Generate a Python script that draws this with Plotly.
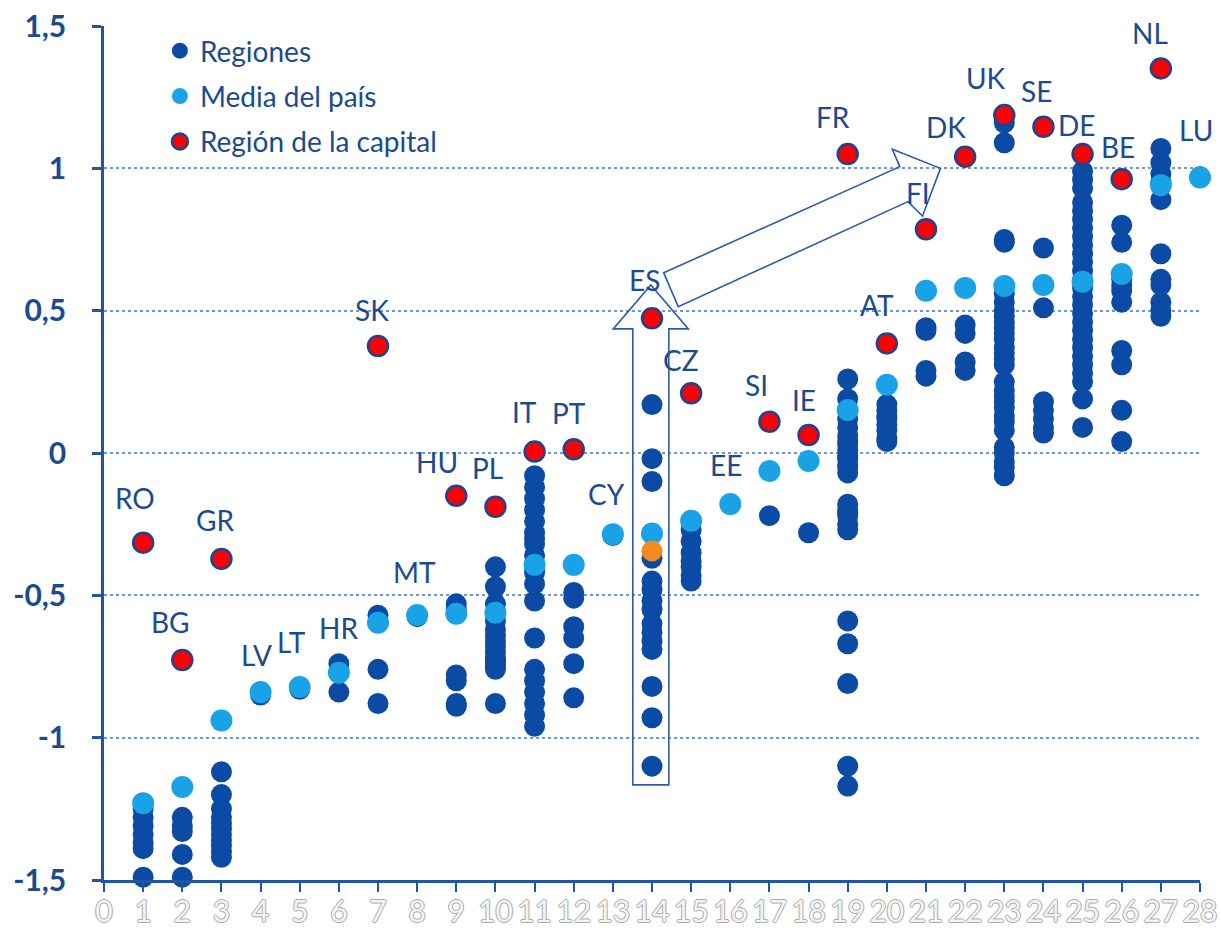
import plotly.graph_objects as go

# ---------------- data ----------------
countries = ["RO", "BG", "GR", "LV", "LT", "HR", "SK", "MT", "HU", "PL", "IT", "PT", "CY", "ES",
             "CZ", "EE", "SI", "IE", "FR", "AT", "FI", "DK", "UK", "SE", "DE", "BE", "NL", "LU"]
positions = list(range(1, 29))

capital_values = [-0.315, -0.727, -0.372, None, None, None, 0.376, None, -0.150, -0.189, 0.005, 0.013,
                  None, 0.473, 0.21, None, 0.11, 0.063, 1.05, 0.385, 0.786, 1.041, 1.187, 1.146,
                  1.05, 0.962, 1.351, None]

country_means = [-1.23, -1.173, -0.94, -0.84, -0.822, -0.772, -0.596, -0.569, -0.565, -0.561, -0.393,
                 -0.393, -0.285, -0.283, -0.238, -0.179, -0.063, -0.028, 0.151, 0.24, 0.570, 0.58,
                 0.587, 0.59, 0.602, 0.629, 0.941, 0.968]

region_values = [
    [-1.25, -1.28, -1.31, -1.34, -1.37, -1.39, -1.49],                       # RO
    [-1.28, -1.31, -1.33, -1.41, -1.49],                                     # BG
    [-1.12, -1.20, -1.25, -1.28, -1.30, -1.32, -1.34, -1.36, -1.38, -1.40, -1.42],  # GR
    [-0.85],                                                                 # LV
    [-0.83],                                                                 # LT
    [-0.74, -0.84],                                                          # HR
    [-0.57, -0.76, -0.88],                                                   # SK
    [-0.575],                                                                # MT
    [-0.53, -0.55, -0.78, -0.80, -0.88, -0.89],                              # HU
    [-0.40, -0.47, -0.53, -0.59, -0.62, -0.64, -0.66, -0.68, -0.70, -0.72, -0.73,
     -0.74, -0.75, -0.76, -0.88],                                            # PL
    [-0.08, -0.12, -0.16, -0.20, -0.24, -0.28, -0.30, -0.32, -0.36, -0.40, -0.42,
     -0.46, -0.52, -0.65, -0.76, -0.80, -0.84, -0.88, -0.92, -0.96],         # IT
    [-0.49, -0.51, -0.61, -0.65, -0.74, -0.86],                              # PT
    [-0.29],                                                                 # CY
    [0.17, -0.02, -0.10, -0.37, -0.45, -0.48, -0.52, -0.55, -0.60, -0.63, -0.66,
     -0.69, -0.82, -0.93, -1.10],                                            # ES
    [-0.27, -0.31, -0.35, -0.38, -0.40, -0.43, -0.45],                       # CZ
    [-0.18],                                                                 # EE
    [-0.22],                                                                 # SI
    [-0.28],                                                                 # IE
    [0.26, 0.19, 0.15, 0.12, 0.09, 0.06, 0.04, 0.03, 0.01, -0.01, -0.02, -0.04, -0.05,
     -0.07, -0.18, -0.20, -0.21, -0.22, -0.25, -0.27, -0.59, -0.67, -0.81, -1.10, -1.17],  # FR
    [0.17, 0.15, 0.13, 0.12, 0.10, 0.08, 0.05, 0.04],                        # AT
    [0.44, 0.43, 0.29, 0.27],                                                # FI
    [0.45, 0.42, 0.32, 0.29],                                                # DK
    [1.16, 1.09, 0.75, 0.74, 0.56, 0.53, 0.50, 0.48, 0.46, 0.44, 0.42, 0.40, 0.37,
     0.35, 0.33, 0.31, 0.25, 0.22, 0.20, 0.18, 0.16, 0.13, 0.11, 0.08, 0.02, 0.0,
     -0.03, -0.05, -0.08],                                                   # UK
    [0.72, 0.51, 0.18, 0.15, 0.12, 0.09, 0.07],                              # SE
    [0.99, 0.96, 0.93, 0.88, 0.85, 0.82, 0.79, 0.76, 0.73, 0.70, 0.67, 0.64, 0.61,
     0.58, 0.55, 0.52, 0.49, 0.46, 0.43, 0.40, 0.37, 0.34, 0.31, 0.28, 0.25, 0.19, 0.09],  # DE
    [0.80, 0.74, 0.61, 0.59, 0.57, 0.53, 0.36, 0.31, 0.15, 0.04],            # BE
    [1.07, 1.02, 0.98, 0.95, 0.89, 0.70, 0.61, 0.59, 0.53, 0.50, 0.48],      # NL
    [0.97],                                                                  # LU
]

highlight_x = [14]
highlight_y = [-0.344]

x_tick_vals = list(range(0, 29))
x_tick_text = [str(v) for v in x_tick_vals]
y_tick_vals = [-1.5, -1, -0.5, 0, 0.5, 1, 1.5]
y_tick_text = ["-1,5", "-1", "-0,5", "0", "0,5", "1", "1,5"]

legend_names = ["Regiones", "Media del país", "Región de la capital"]

# label placement (data coordinates of each country code)
label_x = [0.8, 1.69, 2.84, 3.9, 4.79, 5.98, 6.85, 7.94, 8.5, 9.81, 10.75, 11.88, 12.84, 13.8,
           14.75, 15.89, 16.67, 17.88, 18.63, 19.74, 20.79, 21.52, 22.53, 23.83, 24.84, 25.9,
           26.72, 27.9]
label_y = [-0.157, -0.593, -0.235, -0.71, -0.663, -0.615, 0.502, -0.417, -0.03, -0.053, 0.145,
           0.14, -0.144, 0.608, 0.327, -0.042, 0.239, 0.186, 1.181, 0.52, 0.913, 1.146, 1.316,
           1.273, 1.152, 1.076, 1.474, 1.134]

# ---------------- styles ----------------
DARK = "#0B4BA5"
LIGHT = "#19A2E6"
RED = "#FF0000"
EDGE = "#1E4390"
TEXT = "#1A4A92"
AXIS = "#1F55A5"
GRID = "#6E98D2"
FONT = "Lato"

reg_x, reg_y = [], []
for p, vals in zip(positions, region_values):
    for v in vals:
        reg_x.append(p)
        reg_y.append(v)

cap_x = [p for p, v in zip(positions, capital_values) if v is not None]
cap_y = [v for v in capital_values if v is not None]

fig = go.Figure()
fig.add_trace(go.Scatter(x=reg_x, y=reg_y, mode="markers", name=legend_names[0],
                         legendgroup="a", cliponaxis=False,
                         marker=dict(size=21, color=DARK, line=dict(width=0))))
fig.add_trace(go.Scatter(x=positions, y=country_means, mode="markers", name=legend_names[1],
                         legendgroup="b", cliponaxis=False,
                         marker=dict(size=22, color=LIGHT, line=dict(width=0))))
fig.add_trace(go.Scatter(x=cap_x, y=cap_y, mode="markers", name=legend_names[2],
                         legendgroup="c", cliponaxis=False,
                         marker=dict(size=20, color=RED, line=dict(width=2.5, color=EDGE))))
fig.add_trace(go.Scatter(x=highlight_x, y=highlight_y, mode="markers", showlegend=False,
                         cliponaxis=False,
                         marker=dict(size=21, color="#F28C1E", line=dict(width=0))))

for name, lx, ly in zip(countries, label_x, label_y):
    fig.add_annotation(x=lx, y=ly, text=name, showarrow=False, xref="x", yref="y",
                       font=dict(family=FONT, size=28, color=TEXT))

# block arrows (outlined)
vertical_arrow = ("M 13.51 -1.166 L 13.51 0.436 L 13.01 0.436 L 13.97 0.590 "
                  "L 14.93 0.436 L 14.43 0.436 L 14.43 -1.166 Z")
diagonal_arrow = ("M 14.30 0.633 L 20.33 1.006 L 20.14 1.067 L 21.37 1.0 "
                  "L 20.91 0.832 L 20.54 0.883 L 14.67 0.514 Z")
for path in (vertical_arrow, diagonal_arrow):
    fig.add_shape(type="path", path=path, xref="x", yref="y",
                  line=dict(color="#2A5CAA", width=1.6), fillcolor="rgba(0,0,0,0)",
                  layer="above")

outline = "1px 0 0 #a9a9a9, -1px 0 0 #a9a9a9, 0 1px 0 #a9a9a9, 0 -1px 0 #a9a9a9"

fig.update_layout(
    width=1221, height=945,
    margin=dict(l=104, r=21, t=26, b=65, autoexpand=False),
    paper_bgcolor="white", plot_bgcolor="white",
    showlegend=True,
    legend=dict(x=0.051, y=1.0, xanchor="left", yanchor="top",
                bgcolor="rgba(0,0,0,0)", tracegroupgap=6,
                font=dict(family=FONT, size=28, color=TEXT)),
    xaxis=dict(range=[0, 28], tickmode="array", tickvals=x_tick_vals, ticktext=x_tick_text,
               tickangle=0, showgrid=False, zeroline=False, automargin=False,
               showline=True, linecolor=AXIS, linewidth=2.5,
               ticks="outside", ticklen=9, tickwidth=2, tickcolor=AXIS,
               ticklabelstandoff=-6,
               tickfont=dict(family=FONT, size=30, color="#f4f4f4", shadow=outline)),
    yaxis=dict(range=[-1.5, 1.5], tickmode="array", tickvals=y_tick_vals, ticktext=y_tick_text,
               showgrid=True, gridcolor=GRID, gridwidth=2, griddash="dot", zeroline=False,
               automargin=False,
               showline=True, linecolor=AXIS, linewidth=2.5,
               ticks="outside", ticklen=9, tickwidth=2.5, tickcolor=AXIS,
               ticklabelstandoff=20,
               tickfont=dict(family=FONT, size=30, color=TEXT, weight="bold")),
)

fig.write_html(
    "out.html",
    config={"displayModeBar": False},
    post_script="document.body.style.margin='0';document.documentElement.style.overflow='hidden';document.body.style.overflow='hidden';",
)
